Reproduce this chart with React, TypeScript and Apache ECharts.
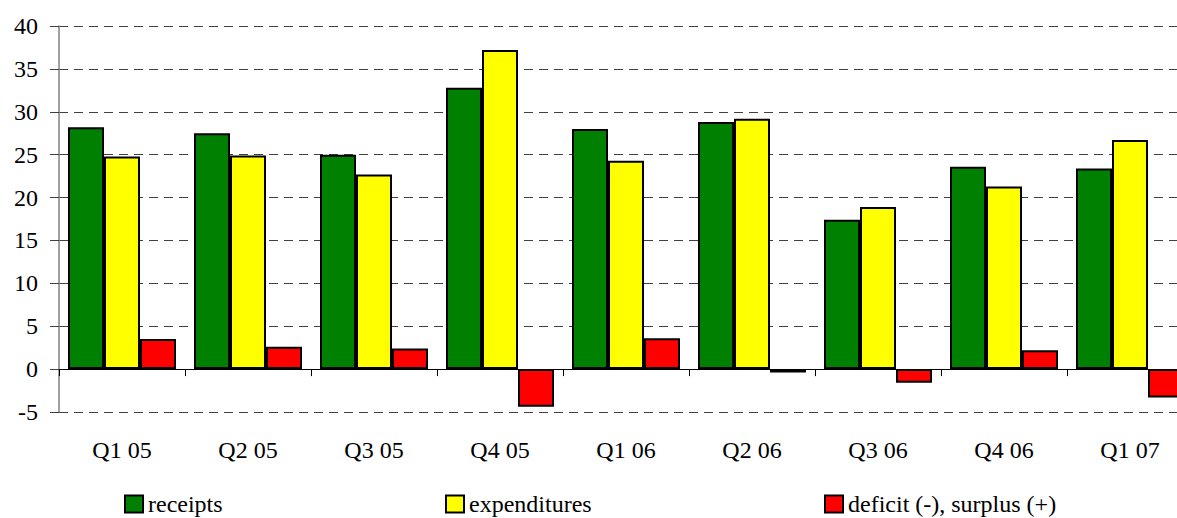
import React, { useEffect, useRef } from "react";
import * as echarts from "echarts";

// Quarterly budget figures
const quarters = ["Q1 05", "Q2 05", "Q3 05", "Q4 05", "Q1 06", "Q2 06", "Q3 06", "Q4 06", "Q1 07"];
const receipts = [28.2, 27.5, 25.0, 32.8, 28.0, 28.8, 17.4, 23.6, 23.4];
const expenditures = [24.8, 24.9, 22.7, 37.2, 24.3, 29.2, 18.9, 21.3, 26.7];
const balance = [3.5, 2.6, 2.4, -4.4, 3.6, -0.4, -1.6, 2.2, -3.3];

const seriesNames = ["receipts", "expenditures", "deficit (-), surplus (+)"];
const seriesColors = ["#008000", "#FFFF00", "#FF0000"];
const yTicks = { min: -5, max: 40, step: 5 };

const FONT = "Liberation Serif";

export default function App() {
  const ref = useRef<HTMLDivElement>(null);

  useEffect(() => {
    if (!ref.current) return;
    document.body.style.margin = "0";
    const chart = echarts.init(ref.current, null, { renderer: "svg" });
    const values = [receipts, expenditures, balance];
    const legendLefts = [124, 445, 824];

    chart.setOption({
      animation: false,
      textStyle: { fontFamily: FONT },
      // plot runs past the right edge, so the last group is cut off
      grid: { left: 59, top: 26, width: 1134, height: 386, outerBoundsMode: "none" },
      legend: seriesNames.map((name, i) => ({
        data: [name],
        left: legendLefts[i],
        top: 492,
        padding: 0,
        itemWidth: 18,
        itemHeight: 17,
        icon: "rect",
        selectedMode: false,
        itemStyle: { borderColor: "#000", borderWidth: 2 },
        textStyle: { fontFamily: FONT, fontSize: 24, color: "#000" },
      })),
      xAxis: [
        {
          type: "category",
          data: quarters,
          position: "bottom",
          axisLine: { show: false, onZero: false },
          axisTick: { show: false },
          axisLabel: { fontFamily: FONT, fontSize: 24, color: "#000", margin: 26 },
        },
        {
          type: "category",
          data: quarters,
          position: "bottom",
          axisLine: { show: true, onZero: true, lineStyle: { color: "#000", width: 1 } },
          axisTick: { show: true, length: 7, lineStyle: { color: "#000", width: 1 } },
          axisLabel: { show: false },
          splitLine: { show: false },
        },
      ],
      yAxis: {
        type: "value",
        min: yTicks.min,
        max: yTicks.max,
        interval: yTicks.step,
        axisLine: { show: true, lineStyle: { color: "#808080", width: 1.5 } },
        axisTick: { show: true, length: 9, lineStyle: { color: "#404040", width: 1 } },
        axisLabel: { fontFamily: FONT, fontSize: 24, color: "#000", margin: 21 },
        splitLine: { show: true, lineStyle: { color: "#404040", width: 1, type: [9, 6] } },
      },
      series: seriesNames.map((name, i) => ({
        name,
        type: "bar",
        xAxisIndex: 0,
        data: values[i],
        barWidth: 36,
        barGap: "0%",
        itemStyle: { color: seriesColors[i], borderColor: "#000", borderWidth: 2 },
      })),
    });

    return () => chart.dispose();
  }, []);

  return <div ref={ref} style={{ width: 1177, height: 518, background: "#fff" }} />;
}
